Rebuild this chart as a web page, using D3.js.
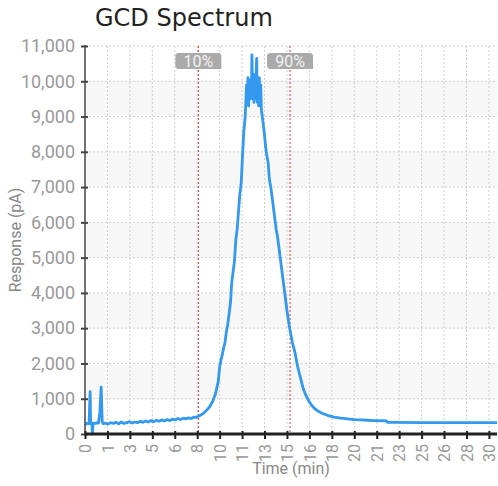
<!DOCTYPE html>
<html><head><meta charset="utf-8">
<script src="https://cdn.jsdelivr.net/npm/d3@7"></script>
<style>body{margin:0;background:#fff}</style>
</head><body>
<svg id="c" width="498" height="486"></svg>
<script>
const title = "GCD Spectrum";
const xLabel = "Time (min)";
const yLabel = "Response (pA)";
const xTickValues = [0,1.667,3.333,5,6.667,8.333,10,11.667,13.333,15,16.667,18.333,20,21.667,23.333,25,26.667,28.333,30];
const xTickLabels = ["0","1","3","5","6","8","10","11","13","15","16","18","20","21","23","25","26","28","30"];
const yTickValues = [0,1000,2000,3000,4000,5000,6000,7000,8000,9000,10000,11000];
const markers = [{t:8.42,label:"10%"},{t:15.23,label:"90%"}];
const times = [0,0.1,0.2,0.3,0.38,0.42,0.5,0.55,0.6,0.7,0.8,0.9,1.0,1.1,1.2,1.28,1.35,1.5,1.7,1.9,2.1,2.3,2.5,2.7,2.9,3.1,3.3,3.5,3.7,3.9,4.1,4.3,4.5,4.7,4.9,5.1,5.3,5.5,5.7,5.9,6.1,6.3,6.5,6.7,6.9,7.1,7.3,7.5,7.7,7.9,8.1,8.3,8.5,8.7,8.9,9.1,9.3,9.5,9.7,9.9,10.0,10.1,10.2,10.3,10.4,10.5,10.6,10.7,10.8,10.9,11.0,11.1,11.2,11.3,11.4,11.5,11.6,11.7,11.8,11.9,12.0,12.05,12.1,12.15,12.2,12.25,12.3,12.35,12.4,12.45,12.5,12.55,12.6,12.65,12.7,12.75,12.8,12.85,12.9,12.95,13.0,13.05,13.1,13.2,13.3,13.4,13.5,13.6,13.7,13.8,13.9,14.0,14.1,14.2,14.3,14.4,14.5,14.6,14.7,14.8,14.9,15.0,15.1,15.2,15.3,15.4,15.5,15.6,15.8,16.0,16.2,16.4,16.6,16.8,17.0,17.3,17.6,18.0,18.5,19.0,19.5,20.0,20.5,21.0,21.5,22.0,22.4,22.45,23,25,27,29,30.6];
const response = [300,280,310,290,1200,300,320,0,290,310,300,320,310,600,1330,350,290,310,280,320,300,330,290,340,300,320,350,310,340,320,360,330,370,340,380,350,390,360,400,370,410,380,420,400,440,410,450,430,460,440,480,470,520,560,620,700,800,940,1150,1500,1900,2100,2250,2450,2600,2900,3100,3400,3700,4300,4600,4900,5500,5800,6300,6800,7100,7900,8600,9000,9900,9500,10100,9300,9900,9500,10050,9600,10750,9500,10200,9400,9900,9500,10100,10650,9400,10000,9300,10100,9400,9900,9200,8900,8600,8200,7900,7700,7200,7000,6700,6400,6100,5800,5600,5300,5000,4700,4400,4100,3800,3500,3250,3000,2800,2600,2450,2300,1900,1600,1300,1100,950,830,740,650,590,530,480,450,430,410,400,390,380,375,370,330,330,325,325,320,320];

const svg = d3.select("#c");
const L=85, R=497, T=46, B=434;
const x = d3.scaleLinear().domain([0,30.6]).range([L,R]);
const y = d3.scaleLinear().domain([0,11000]).range([B,T]);
const tickFont = "Roboto,sans-serif";

// bands
const bands = yTickValues.slice(0,-1).filter(v => (v/1000)%2===1);
svg.append("g").selectAll("rect").data(bands).join("rect")
  .attr("x",L).attr("width",R-L)
  .attr("y",d=>y(d+1000)).attr("height",d=>y(d)-y(d+1000))
  .attr("fill","#f7f7f7");

// grid
svg.append("g").selectAll("line").data(yTickValues.slice(1)).join("line")
  .attr("x1",L).attr("x2",R).attr("y1",d=>y(d)).attr("y2",d=>y(d))
  .attr("stroke","#cfcfcf").attr("stroke-dasharray","2,2");
svg.append("g").selectAll("line").data(xTickValues.slice(1)).join("line")
  .attr("x1",d=>x(d)).attr("x2",d=>x(d)).attr("y1",T).attr("y2",B)
  .attr("stroke","#cfcfcf").attr("stroke-dasharray","2,2");

// markers lines
svg.append("g").selectAll("line").data(markers).join("line")
  .attr("x1",d=>x(d.t)).attr("x2",d=>x(d.t)).attr("y1",T).attr("y2",B)
  .attr("stroke","#ee3333").attr("stroke-dasharray","2,2").attr("stroke-width",1);

// data line
const pts = times.map((t,i)=>[t,response[i]]);
svg.append("path").datum(pts)
  .attr("d", d3.line().x(d=>x(d[0])).y(d=>y(d[1])))
  .attr("fill","none").attr("stroke","#3399ee").attr("stroke-width",2.8)
  .attr("stroke-linejoin","round");

// marker labels
const mg = svg.append("g").selectAll("g").data(markers).join("g")
  .attr("transform",d=>`translate(${x(d.t)},61)`);
mg.append("path").attr("d","M-21,-8 L21,-8 L23,-6 L23,8 L-21,8 L-23,6 L-23,-6 Z")
  .attr("fill","#aaaaaa");
mg.append("text").text(d=>d.label).attr("text-anchor","middle").attr("dy","0.36em")
  .attr("fill","#f2f2f2").attr("font-family",tickFont).attr("font-size",16);

// y axis
const yAxis = svg.append("g").attr("transform",`translate(${L},0)`)
  .call(d3.axisLeft(y).tickValues(yTickValues).tickSize(4).tickPadding(6).tickFormat(d3.format(",")));
yAxis.select(".domain").attr("stroke","#444").attr("stroke-width",1.5).attr("d",`M0,${T-1}V${B+1}`);
yAxis.selectAll(".tick line").attr("stroke","#444").attr("stroke-width",2).attr("x1",3);
yAxis.selectAll("text").attr("fill","#999").attr("font-family",tickFont).attr("font-size",18);

// x axis
const xAxis = svg.append("g").attr("transform",`translate(0,${B})`)
  .call(d3.axisBottom(x).tickValues(xTickValues).tickSize(5).tickFormat((d,i)=>xTickLabels[i]));
xAxis.select(".domain").attr("stroke","#222").attr("stroke-width",3).attr("d",`M${L},0H${R}`);
xAxis.selectAll(".tick line").attr("stroke","#222").attr("stroke-width",2).attr("y1",-3);
xAxis.selectAll("text").attr("fill","#999").attr("font-family",tickFont).attr("font-size",16)
  .attr("text-anchor","end").attr("transform","rotate(-90)").attr("x",-10).attr("y",0).attr("dy","0.35em");

// titles
svg.append("text").text(title).attr("x",95).attr("y",26)
  .attr("font-family","'DejaVu Sans',sans-serif").attr("font-size",24).attr("fill","#222");
svg.append("text").text(xLabel).attr("x",(L+R)/2).attr("y",474).attr("text-anchor","middle")
  .attr("font-family",tickFont).attr("font-size",16).attr("fill","#888");
svg.append("text").text(yLabel).attr("transform",`translate(21,${(T+B)/2}) rotate(-90)`)
  .attr("text-anchor","middle").attr("font-family",tickFont).attr("font-size",16).attr("fill","#888");
</script>
</body></html>
